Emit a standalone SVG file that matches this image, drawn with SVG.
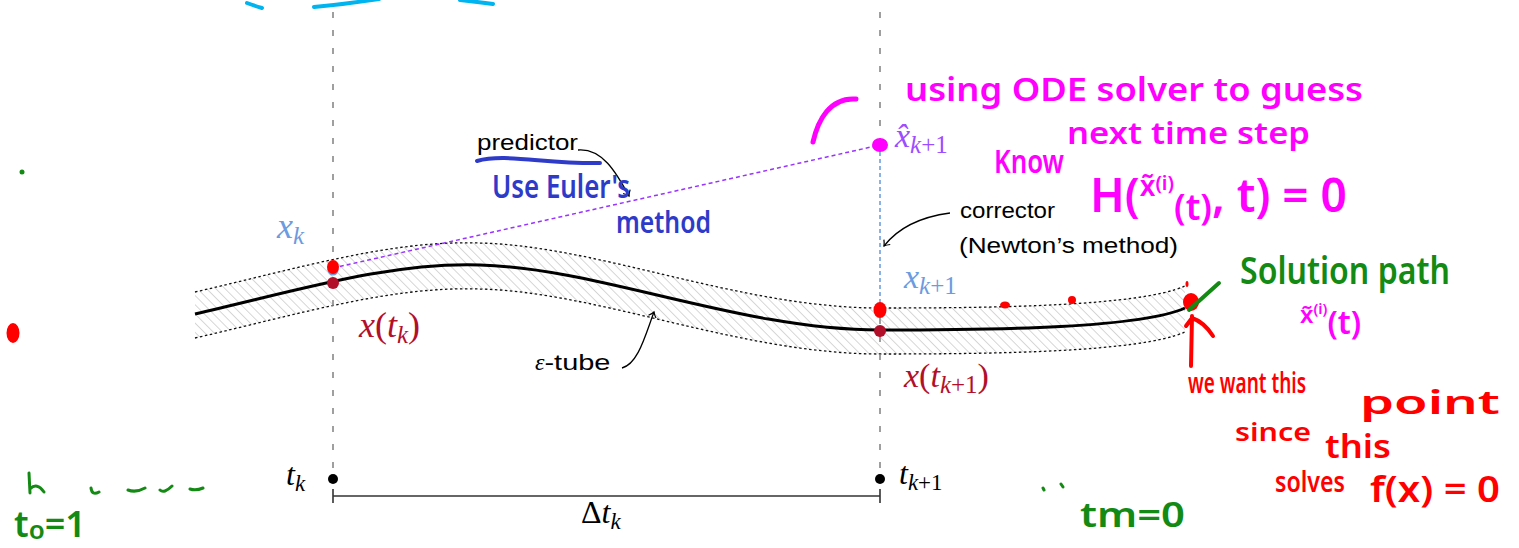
<svg xmlns="http://www.w3.org/2000/svg" width="1519" height="548" viewBox="0 0 1519 548">
<defs>
<pattern id="hatch" patternUnits="userSpaceOnUse" width="6.5" height="6.5" patternTransform="rotate(-45)">
<line x1="0" y1="0" x2="0" y2="6.5" stroke="#a6a6a6" stroke-width="0.9"/>
</pattern>
<marker id="ah" viewBox="-6 -5 8 10" markerWidth="9" markerHeight="10" refX="0" refY="0" orient="auto" markerUnits="userSpaceOnUse">
<path d="M-5,-4 Q-2,-1 0,0 Q-2,1 -5,4" fill="none" stroke="#000" stroke-width="1.2"/>
</marker>
<style>
.vdash{stroke:#888;stroke-width:1.6;stroke-dasharray:6 12;fill:none}
.tubeb{stroke:#111;stroke-width:1.3;stroke-dasharray:2.5 2.5;fill:none}
.math{font-family:"Liberation Serif","DejaVu Serif",serif;font-style:italic}
.rm{font-family:"Liberation Serif","DejaVu Serif",serif;font-style:normal}
.sans{font-family:"Liberation Sans","DejaVu Sans",sans-serif;font-size:22px;fill:#000}
.hand{font-family:"Noto Sans","DejaVu Sans",sans-serif;font-weight:600}
.arrow{fill:none;stroke:#000;stroke-width:1.3;marker-end:url(#ah)}
.ink{fill:none;stroke-linecap:round;stroke-linejoin:round}
</style>
</defs>
<rect width="1519" height="548" fill="#fff"/>

<g id="tube">
<path d="M195,292 C300,268 390,240 480,243 C600,246 740,308 880,308 C1000,308 1140,306 1185,286 L1185,332 C1140,352 1000,354 880,354 C740,354 600,292 480,289 C390,286 300,314 195,338 Z" fill="url(#hatch)"/>
<path class="tubeb" d="M195,292 C300,268 390,240 480,243 C600,246 740,308 880,308 C1000,308 1140,306 1185,286"/>
<path class="tubeb" d="M195,338 C300,314 390,286 480,289 C600,292 740,354 880,354 C1000,354 1140,352 1185,332"/>
</g>
<g id="solution-curve">
<path d="M195,314 C300,290 390,262 480,265 C600,268 740,330 880,330 C1000,330 1140,328 1185,308" fill="none" stroke="#000" stroke-width="3"/>
</g>

<g id="connectors">
<line class="vdash" x1="333" y1="12" x2="333" y2="472"/>
<line class="vdash" x1="880" y1="12" x2="880" y2="140"/>
<line class="vdash" x1="880" y1="318" x2="880" y2="472"/>
<line x1="880" y1="152" x2="880" y2="304" stroke="#6f9fe0" stroke-width="1.6" stroke-dasharray="4 3"/>
<line x1="333" y1="268" x2="880" y2="145" stroke="#9933ff" stroke-width="1.5" stroke-dasharray="4 3"/>
<path class="arrow" d="M578,150 C602,148 616,172 629,196"/>
<path class="arrow" d="M950,213 C920,217 898,228 884,246"/>
<path class="arrow" d="M622,368 C638,364 645,336 654,312"/>
<g id="dt-bracket" stroke="#333" stroke-width="1.6">
<line x1="333" y1="496" x2="880" y2="496"/>
<line x1="333" y1="489" x2="333" y2="503"/>
<line x1="880" y1="489" x2="880" y2="503"/>
</g>
</g>

<g id="node-xk">
<circle cx="333" cy="270" r="5.5" fill="#6b9be0"/>
<text class="math" x="277" y="238" font-size="36" fill="#6b9be0">x<tspan font-size="25" dy="6">k</tspan></text>
</g>
<g id="node-xtk">
<circle cx="333" cy="283" r="6" fill="#b2102a"/>
<text x="359" y="337" font-size="36" fill="#b2102a"><tspan class="math">x</tspan><tspan class="rm">(</tspan><tspan class="math">t</tspan><tspan class="math" font-size="25" dy="6">k</tspan><tspan class="rm" dy="-6">)</tspan></text>
</g>
<g id="node-xhat">
<circle cx="880" cy="145" r="5.5" fill="#9933ff"/>
<text class="math" x="895" y="147" font-size="34" fill="#9b4dff">x̂<tspan font-size="25" dy="6">k</tspan><tspan class="rm" font-size="25">+1</tspan></text>
</g>
<g id="node-xk1">
<text class="math" x="904" y="288" font-size="34" fill="#6b9be0">x<tspan font-size="25" dy="6">k</tspan><tspan class="rm" font-size="25">+1</tspan></text>
</g>
<g id="node-xtk1">
<circle cx="880" cy="331" r="6" fill="#b2102a"/>
<text x="904" y="387" font-size="34" fill="#b2102a"><tspan class="math">x</tspan><tspan class="rm">(</tspan><tspan class="math">t</tspan><tspan class="math" font-size="25" dy="6">k</tspan><tspan class="rm" font-size="25">+1</tspan><tspan class="rm" dy="-6">)</tspan></text>
</g>
<g id="node-tk">
<circle cx="333" cy="479" r="5" fill="#000"/>
<text class="math" x="286" y="485" font-size="32">t<tspan font-size="23" dy="6">k</tspan></text>
</g>
<g id="node-tk1">
<circle cx="880" cy="479" r="5" fill="#000"/>
<text class="math" x="899" y="484" font-size="32">t<tspan font-size="23" dy="6">k</tspan><tspan class="rm" font-size="23">+1</tspan></text>
</g>
<g id="label-dt">
<text x="581" y="523" font-size="32"><tspan class="rm">Δ</tspan><tspan class="math">t</tspan><tspan class="math" font-size="23" dy="6">k</tspan></text>
</g>
<g id="label-predictor"><text class="sans" x="477" y="150" textLength="101" lengthAdjust="spacingAndGlyphs">predictor</text></g>
<g id="label-corrector">
<text class="sans" x="960" y="218" textLength="95" lengthAdjust="spacingAndGlyphs">corrector</text>
<text class="sans" x="959" y="253" textLength="219" lengthAdjust="spacingAndGlyphs">(Newton’s method)</text>
</g>
<g id="label-tube"><text x="535" y="370" font-size="24"><tspan class="math">ε</tspan><tspan class="sans" textLength="66" lengthAdjust="spacingAndGlyphs">-tube</tspan></text></g>

<g id="ink-cyan">
<path class="ink" stroke="#00b4f0" stroke-width="4" d="M247,3 Q255,6 262,8 M314,7 Q346,4 379,-1 M460,0 Q478,2 493,4"/>
</g>
<g id="ink-magenta" fill="#ff00ff">
<path class="ink" stroke="#ff00ff" stroke-width="5" d="M813,142 C818,120 830,97 856,99"/>
<ellipse cx="880" cy="145" rx="8" ry="7"/>
<text class="hand" x="905" y="101" font-size="33" textLength="458" lengthAdjust="spacingAndGlyphs">using ODE solver to guess</text>
<text class="hand" x="1067" y="144" font-size="30" textLength="243" lengthAdjust="spacingAndGlyphs">next time step</text>
<text class="hand" x="994" y="173" font-size="32" textLength="70" lengthAdjust="spacingAndGlyphs">Know</text>
<text class="hand" x="1090" y="212" font-size="46">H(<tspan font-size="28" dy="-16">x̃</tspan><tspan font-size="20" dy="-6">(i)</tspan><tspan font-size="36" dy="30">(t)</tspan><tspan font-size="46" dy="-8">, t) = 0</tspan></text>
<text class="hand" x="1300" y="323" font-size="24">x̃<tspan font-size="15" dy="-9">(i)</tspan><tspan font-size="32" dy="20">(t)</tspan></text>
</g>
<g id="ink-blue" fill="#2e3bc9">
<path class="ink" stroke="#2e3bc9" stroke-width="4" d="M477,161 C505,153 545,164 600,163"/>
<text class="hand" x="492" y="198" font-size="32" textLength="138" lengthAdjust="spacingAndGlyphs">Use Euler's</text>
<text class="hand" x="616" y="233" font-size="30" textLength="95" lengthAdjust="spacingAndGlyphs">method</text>
</g>
<g id="ink-red" fill="#ff0000">
<ellipse cx="333" cy="267" rx="6" ry="7"/>
<ellipse cx="880" cy="310" rx="6.5" ry="8"/>
<ellipse cx="1005" cy="305" rx="5" ry="3.5"/>
<ellipse cx="1072" cy="300" rx="4" ry="4"/>
<ellipse cx="1191" cy="302" rx="8" ry="9"/>
<ellipse cx="1187" cy="284" rx="1.5" ry="3"/>
<ellipse cx="13" cy="333" rx="6.5" ry="10"/>
<path class="ink" stroke="#ff0000" stroke-width="4" d="M1191,366 L1192,316 M1192,318 Q1204,322 1213,336 M1192,318 L1186,326"/>
<text class="hand" x="1188" y="393" font-size="28" textLength="118" lengthAdjust="spacingAndGlyphs">we want this</text>
<text class="hand" x="1360" y="414" font-size="32" textLength="140" lengthAdjust="spacingAndGlyphs">point</text>
<text class="hand" x="1235" y="441" font-size="26" textLength="76" lengthAdjust="spacingAndGlyphs">since</text>
<text class="hand" x="1325" y="458" font-size="32" textLength="66" lengthAdjust="spacingAndGlyphs">this</text>
<text class="hand" x="1275" y="492" font-size="28" textLength="70" lengthAdjust="spacingAndGlyphs">solves</text>
<text class="hand" x="1370" y="502" font-size="36" textLength="130" lengthAdjust="spacingAndGlyphs">f(x) = 0</text>
</g>
<g id="ink-green" fill="#138a13">
<circle cx="22" cy="172" r="2.5"/>
<path class="ink" stroke="#138a13" stroke-width="4" d="M1189,310 L1219,283"/>
<path class="ink" stroke="#138a13" stroke-width="3" d="M29,473 L30,493 M30,489 Q37,482 44,492 M91,488 Q92,496 99,492 M128,490 Q136,493 145,488 M160,490 Q164,494 172,486 M190,489 Q196,491 203,488 M1043,488 L1044,490 M1061,484 L1063,487"/>
<text class="hand" x="1240" y="284" font-size="38" textLength="210" lengthAdjust="spacingAndGlyphs">Solution path</text>
<text class="hand" x="14" y="537" font-size="36">t<tspan font-size="26" dy="2">o</tspan><tspan dy="-2">=1</tspan></text>
<text class="hand" x="1080" y="527" font-size="34" textLength="105" lengthAdjust="spacingAndGlyphs">tm=0</text>
</g>
</svg>
